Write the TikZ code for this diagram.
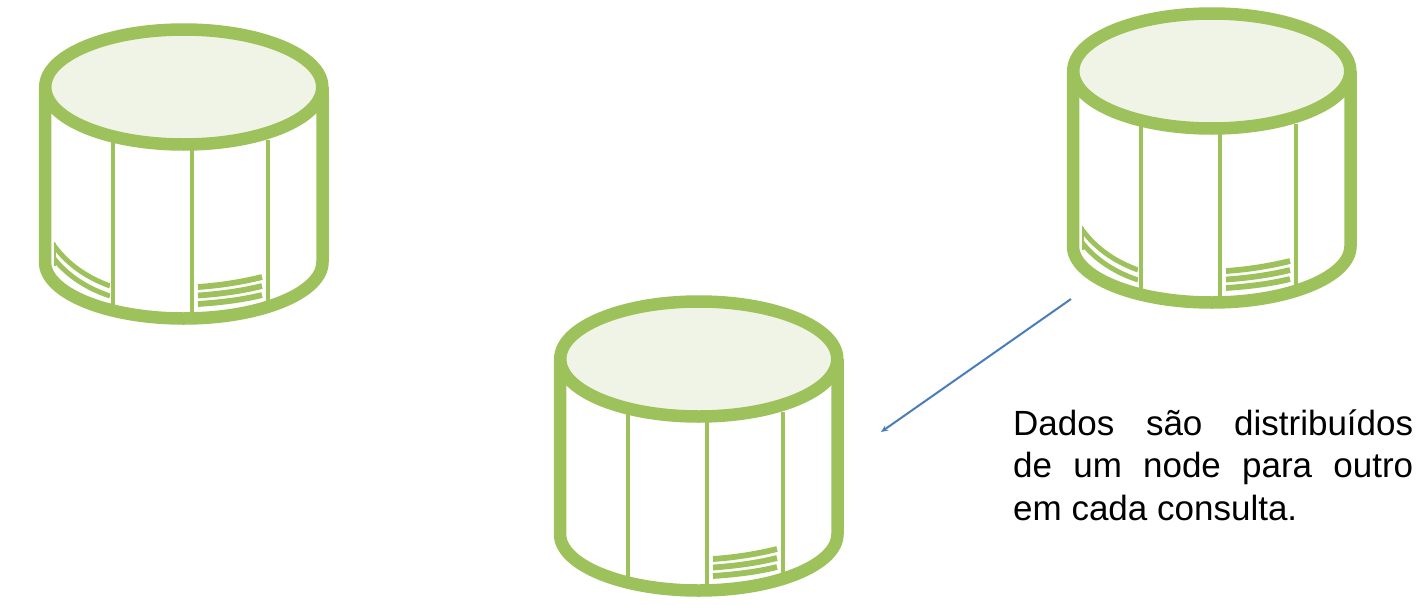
\documentclass[tikz,border=0pt]{standalone}
\usepackage{fontspec}
\setmainfont{Liberation Sans}
\usetikzlibrary{arrows.meta}
\definecolor{cylgreen}{HTML}{9DC15B}
\definecolor{cyltop}{HTML}{F0F4E6}
\definecolor{arrowblue}{HTML}{4A7EBB}
\tikzset{
  x=1pt,y=-1pt,
  rim/.style={draw=cylgreen,line width=12.5pt},
  rib/.style={draw=cylgreen,line width=4.2pt},
  hatch/.style={draw=cylgreen,line width=5.8pt},
  lefthatch/.style={draw=cylgreen,line width=5pt},
  pics/cylbody/.style={code={
    \draw[rim] (45,87) -- (45,262) .. controls (45,293) and (107,318.5) .. (183.75,318.5)
      .. controls (260,318.5) and (322.5,293) .. (322.5,262) -- (322.5,87);
    \draw[rib] (113,140) -- (113,308);
    \draw[rib] (192,145) -- (192,314);
    \draw[rib] (268,140) -- (268,303);
    \draw[rim,fill=cyltop] (183.75,87) ellipse [x radius=138.5,y radius=57.5];
    \draw[hatch] (198,287) .. controls (220,285.5) and (242,282) .. (262,277);
    \draw[hatch] (198,295.5) .. controls (220,294) and (242,291) .. (262,286);
    \draw[hatch] (198,304) .. controls (220,302.5) and (242,300) .. (262,295);
  }},
  pics/cylhatch/.style={code={
    \begin{scope}
      \clip (54,235) rectangle (110,300);
      \draw[lefthatch] (50,240) .. controls (66,264) and (86,277) .. (110,286);
      \draw[lefthatch] (50,253) .. controls (64,274) and (86,288) .. (110,296);
    \end{scope}
    \draw[draw=cylgreen,line width=1.2pt] (55,243) -- (55,266);
  }},
}
\begin{document}
\begin{tikzpicture}
\useasboundingbox (0,0) rectangle (1427,605);
\pic (cylA) at (0,0) {cylbody};
\pic (cylAh) at (0,0) {cylhatch};
\pic (cylB) at (515,272) {cylbody};
\pic (cylC) at (1028,-16) {cylbody};
\pic (cylCh) at (1028,-16) {cylhatch};
\coordinate (arrowstart) at (1071,299);
\coordinate (arrowend) at (881,432);
\draw[arrowblue,line width=2pt,-{Stealth[length=7pt,width=6pt]}] (arrowstart) -- (arrowend);
\node[anchor=north west,inner sep=0pt,text width=400pt,align=justify,font=\fontsize{35}{42.3}\selectfont] (caption) at (1013,409.5)
  {Dados são distribuídos\linebreak de um node para outro\linebreak em cada consulta.};
\end{tikzpicture}
\end{document}
